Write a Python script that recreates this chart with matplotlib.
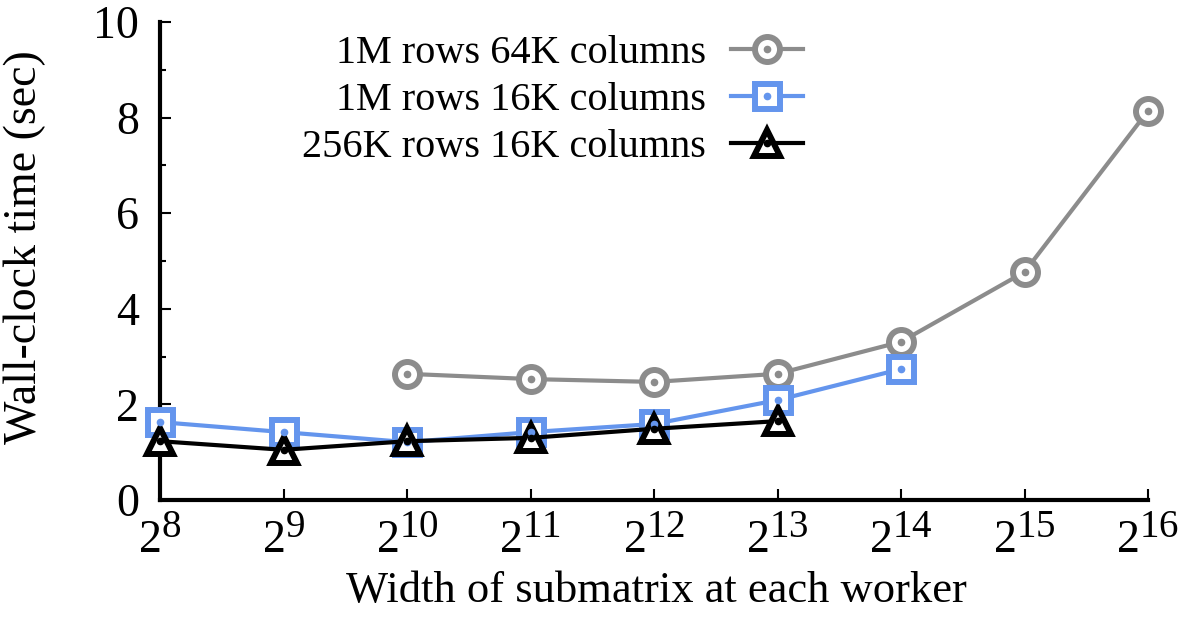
import matplotlib
matplotlib.use("Agg")
import matplotlib.pyplot as plt
from matplotlib.ticker import FixedLocator, FixedFormatter
try:
    import matplotlib._mathtext as _mt
    _mt.SHRINK_FACTOR = 0.85
except Exception:
    pass

plt.rcParams['font.family'] = ['Liberation Serif', 'DejaVu Serif']
plt.rcParams['mathtext.fontset'] = 'custom'
plt.rcParams['mathtext.rm'] = 'Liberation Serif'
plt.rcParams['mathtext.it'] = 'Liberation Serif'
plt.rcParams['mathtext.default'] = 'regular'

# Data
x_64k = [2**10, 2**11, 2**12, 2**13, 2**14, 2**15, 2**16]
y_64k = [2.64, 2.53, 2.47, 2.64, 3.31, 4.77, 8.14]
x_1m16k = [2**8, 2**9, 2**10, 2**11, 2**12, 2**13, 2**14]
y_1m16k = [1.63, 1.42, 1.21, 1.42, 1.59, 2.09, 2.74]
x_256k = [2**8, 2**9, 2**10, 2**11, 2**12, 2**13]
y_256k = [1.23, 1.05, 1.23, 1.30, 1.49, 1.65]
labels = ["1M rows 64K columns", "1M rows 16K columns", "256K rows 16K columns"]
xtick_exps = [8, 9, 10, 11, 12, 13, 14, 15, 16]
yticks = [0, 2, 4, 6, 8, 10]
yticks_minor = [1, 3, 5, 7, 9]

gray = "#8c8c8c"
blue = "#6495ED"
black = "#000000"

fig = plt.figure(figsize=(11.87, 6.2), dpi=100)
ax = fig.add_axes([160/1187, 1-500/620, (1148-160)/1187, (500-22)/620])

series = [
    (x_64k, y_64k, gray, 'o', 18),
    (x_1m16k, y_1m16k, blue, 's', 18),
    (x_256k, y_256k, black, '^', 19),
]
handles = []
for (xs, ys, c, m, ms), lab in zip(series, labels):
    l1, = ax.plot(xs, ys, color=c, lw=3, marker=m, ms=ms, mfc='white',
                  mec=c, mew=4.3, clip_on=False, zorder=3)
    l2, = ax.plot(xs, ys, ls='none', marker='o', ms=4.5, color=c,
                  clip_on=False, zorder=4)
    handles.append((l1, l2))

ax.set_xscale('log', base=2)
ax.set_xlim(2**8, 2**16)
ax.set_ylim(0, 10)
ax.xaxis.set_major_locator(FixedLocator([2**e for e in xtick_exps]))
ax.xaxis.set_major_formatter(FixedFormatter([r'$2^{%d}$' % e for e in xtick_exps]))
ax.xaxis.set_minor_locator(FixedLocator([]))
ax.set_yticks(yticks)
ax.set_yticks(yticks_minor, minor=True)

for s in ['top', 'right']:
    ax.spines[s].set_visible(False)
for s in ['left', 'bottom']:
    ax.spines[s].set_linewidth(3)
ax.tick_params(axis='both', which='major', direction='in', length=8, width=1.5,
               labelsize=33)
ax.tick_params(axis='y', which='minor', direction='in', length=4, width=1.5)
ax.tick_params(axis='x', pad=13)
ax.tick_params(axis='y', pad=15)

ax.set_xlabel("Width of submatrix at each worker", fontsize=32)
ax.set_ylabel("Wall-clock time (sec)", fontsize=33)
ax.xaxis.set_label_coords(0.502, -0.148)
ax.yaxis.set_label_coords(-0.115, 0.53)

leg = ax.legend(handles, labels, loc='upper right',
                bbox_to_anchor=((803-160)/988, (500-35)/478),
                frameon=False, markerfirst=False, fontsize=29,
                handlelength=1.8, labelspacing=0.24, handletextpad=0.6,
                borderaxespad=0, borderpad=0)

fig.savefig("out.png", dpi=100)
